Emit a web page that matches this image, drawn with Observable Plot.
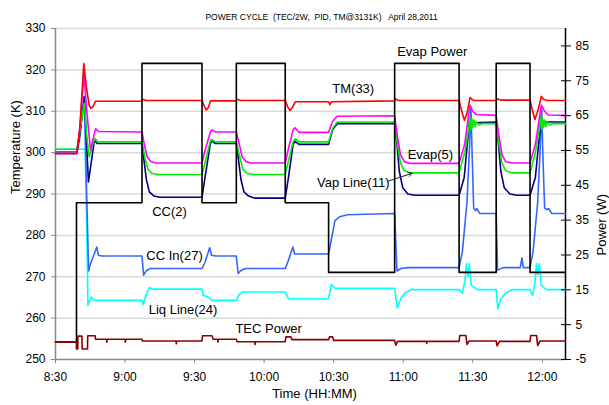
<!DOCTYPE html>
<html>
<head>
<meta charset="utf-8">
<script src="https://cdn.jsdelivr.net/npm/d3@7"></script>
<script src="https://cdn.jsdelivr.net/npm/@observablehq/plot@0.6"></script>
<style>
  html, body { margin: 0; padding: 0; background: #fff; }
  #chart { position: relative; width: 609px; height: 405px; }
  svg { font-family: "Liberation Sans", Arial, sans-serif; }
</style>
</head>
<body>
<div id="chart"></div>
<script>
// ---------- DATA (minutes after 8:30, value) ----------
const chartTitle = "POWER CYCLE  (TEC/2W,  PID, TM@3131K)   April 28,2011";
const xTickLabels = ["8:30", "9:00", "9:30", "10:00", "10:30", "11:00", "11:30", "12:00"];
const tempTicks = [250, 260, 270, 280, 290, 300, 310, 320, 330];
const powerTicks = [-5, 5, 15, 25, 35, 45, 55, 65, 75, 85];

// TM(33) [K]
const tm33 = [[0,299.8],[9.2,299.8],[10.5,306],[12.2,321.5],[13.3,316],[14.5,311.5],[15.3,310.7],[16.3,311.2],[17.2,312.4],
  [37.3,312.4],[37.6,312.9],[39,312.6],[63.2,312.6],[64.2,311.2],[65.1,310.3],[66,311],[66.8,312.5],
  [78,312.5],[78.3,312.9],[80,312.6],[99.1,312.6],[100.2,311],[101.2,310.2],[102.3,311],[103.5,312.3],
  [117.8,312.3],[118.3,311.6],[119,312.3],[146.3,312.5],[146.6,313],[148,312.6],
  [174.1,312.6],[175,310.5],[176.4,307.8],[177.5,309.5],[178.8,313.3],[179.8,312.8],[181,312.6],
  [190.1,312.6],[190.4,313],[192,312.7],[204.7,312.7],[205.6,310.5],[206.8,308],[208,310],[209.6,313.6],[210.5,312.9],[212,312.6],[220,312.6]];

// Evap(5) [K]
const evap5 = [[0,299.8],[9.2,299.8],[10.5,306],[12.3,319],[13.5,310],[15.1,300.6],[16.3,303.5],[17.3,305.8],[18.5,305.1],
  [37.3,305],[38.3,302],[39.5,299],[41,297.9],[43,297.5],[63.2,297.5],[64.5,300.5],[66.8,305],[67.5,305.5],[69,305],
  [78,305],[79.3,302],[80.5,299],[82,297.9],[84,297.5],[99.1,297.5],[100.5,301],[102.5,305.5],[103.3,306],[105,304.9],
  [117.8,304.9],[119.5,307.5],[121.5,308.8],[146.3,308.9],[147.5,304],[148.8,299.5],[150.5,297.8],[153,297.4],
  [174.1,297.4],[176.5,302],[178.8,311.5],[180,310],[181.5,309.2],[190.1,309],[191.3,304],[192.6,299.5],[194.2,297.8],[197,297.5],
  [204.7,297.5],[207,302],[209.6,311.5],[211,310],[212.5,309.1],[220,309]];

// Vap Line(11) [K]
const vapLine11 = [[0,300.8],[9.2,300.8],[10.5,305],[12.4,312],[13.5,304],[14.5,299],[15.8,301.5],[17,303.4],[18.3,302.6],
  [37.3,302.6],[38.5,299],[39.8,296],[41.5,295],[44,294.7],[63.2,294.7],[64.5,297.5],[66.8,302.8],[67.3,303.2],[69,302.6],
  [78,302.6],[79.5,299],[80.8,296],[82.5,295],[85,294.7],[99.1,294.7],[100.5,298],[102.5,302.6],[103.3,303.3],[105,302.6],
  [117.8,302.6],[119.5,305.8],[121.5,307.4],[146.3,307.4],[147.5,302],[148.8,297.5],[150.5,295.6],[153,295.1],
  [174.1,295.1],[176.5,300],[178.3,306],[178.8,308.6],[179.2,305.6],[179.6,308.2],[180,306],[180.5,307.9],[181,306.3],[181.6,307.5],[182.5,306.7],[184,307],
  [190.1,307],[191.3,302],[192.6,297.5],[194.2,295.6],[197,295.1],[204.7,295.1],[207,300],[208.8,306],[209.3,308.6],[209.7,305.6],[210.1,308.2],[210.5,306],[211,307.9],[211.5,306.3],[212.2,307.5],[213,306.7],[214.5,307],[220,307]];

// CC(2) [K]
const cc2 = [[0,299.8],[9.2,299.8],[10.5,304],[12.4,313.5],[13.2,305],[14.2,292.9],[15,296],[16.8,303],[18,302.2],
  [37.3,302.2],[38.2,298],[39.2,293.5],[40.5,290.5],[42.5,289.5],[45,289.2],[63.2,289.2],[64.5,294],[66.8,302.2],[67.5,302.8],[69,302.2],
  [78,302.2],[79,298],[80,293.5],[81.3,290.5],[83.3,289.5],[86,289],[99.1,289],[100.5,294],[102.5,302],[103.3,302.7],[105,302],
  [117.8,302],[119.5,305.5],[121.5,307],[146.3,307],[147.3,302],[148.3,295.5],[149.8,291.5],[152,290],[155,289.7],
  [174.1,289.7],[176.3,294],[178.6,307.8],[180,307.2],[190.1,307.4],[191.1,302],[192.1,295.5],[193.6,291.5],[196,290],[199,289.7],
  [204.7,289.7],[207,294],[209.4,307.8],[211,307.4],[220,307.4]];

// CC In(27) [K]
const ccIn27 = [[0,300.2],[9.2,300.2],[10.5,305],[12.4,313.5],[13.2,295],[13.9,280],[14.3,271.4],[15,273],[16.5,275.2],[17.8,277.2],[18.5,275.2],[20,275],
  [37.3,275],[38,270.4],[39.2,271.5],[41,272],[63.2,272],[64.5,273.5],[66.5,277],[67.3,275.2],[69,275],
  [78,275],[78.8,270.8],[80,271.5],[82,272],[99.1,272],[100.5,274],[102.4,277.2],[103.2,275.5],[105,275.5],
  [117.8,275.5],[119,279],[120.5,283.5],[122.5,284.5],[126,285],[146.3,285.3],[147.3,271.4],[149,272],[152,272.2],
  [174.1,272.2],[175.5,276],[177.5,288],[178.5,300],[179.2,311],[179.7,300],[180.4,286.5],[181.2,286],[181.7,286.5],[183,285.3],
  [190.1,285.3],[190.7,271.6],[193,272.2],[200.5,272.2],[201.2,274.6],[201.8,272.2],[204.7,272.2],
  [206,276],[208,288],[209,300],[209.7,311],[210.2,300],[211,286.6],[212,286.2],[212.7,286.5],[214,285.3],[220,285.3]];

// Liq Line(24) [K]
const liqLine24 = [[0,300.8],[12.8,300.8],[13.4,285],[14,263.1],[15,264.5],[15.5,265.1],[16.5,264.3],
  [37.3,264.3],[37.8,263.3],[39,265.5],[40.5,267.4],[42,267],[63.2,267],[63.8,265.5],[66,265.1],[67.5,264.3],
  [78,264.3],[79,265.5],[80.5,266.3],[82,266.3],[99.1,266.3],[100.5,264.7],[102,264.7],
  [117.8,264.7],[119,268.2],[120.5,267.2],[146.3,267.2],[147.5,262.5],[149,264.8],[151,266.2],[153.5,266.9],
  [174.1,266.9],[175.5,266],[176.6,269],[177.3,273.2],[178,270],[178.5,273.2],[179.3,268],[180.5,267.5],[182,266.9],
  [190.1,266.9],[190.8,262.3],[192,264.5],[194,266],[197,266.9],[204.7,266.9],
  [205.8,265.5],[206.8,268.5],[207.5,273.2],[208.1,270.5],[208.7,273.2],[209.5,268],[210.8,267.3],[212,266.9],[220,266.9]];

// TEC Power [W]
const tecPower = [[0,0],[9.0,0],[9.05,-2],[9.6,-2],[9.65,1.7],[11.4,1.7],[11.5,-2],[13.8,-2],[13.9,1.8],[17.1,1.8],[17.3,0.8],
  [22,0.8],[22.1,0],[22.3,0.8],[30,0.8],[30.1,0],[30.3,0.8],[37.3,0.8],[37.5,0.3],[52,0.3],[52.1,-0.5],[52.3,0.3],
  [63.2,0.3],[63.4,1.8],[67.5,1.8],[68,0.8],[70,0.8],[70.1,0],[70.3,0.8],[78,0.8],[78.3,0.1],[86,0.1],[86.1,-0.7],[86.3,0.1],
  [99.1,0.1],[99.4,1.5],[101.5,1.5],[102,0.7],[117.8,0.7],[118.2,1.5],[119.5,1.5],[120,0.5],[146.3,0.5],[146.8,-0.9],[147.6,0.2],
  [160,0.2],[160.1,-0.4],[160.3,0.2],[174.1,0.2],[174.4,1.9],[177,1.9],[177.5,-0.7],[178.3,0.3],
  [190.1,0.3],[190.5,-1.1],[191.5,0.2],[204.7,0.2],[205,1.9],[207.5,1.9],[208,-1],[209,0.3],[220,0.3]];

// Evap Power [W]
const evapPower = [[0,0],[9.05,0],[9.05,40],[37.3,40],[37.3,80],[63.2,80],[63.2,40],[78,40],[78,80],[99.1,80],[99.1,40],
  [117.8,40],[117.8,20],[146.3,20],[146.3,80],[174.1,80],[174.1,20],[190.1,20],[190.1,80],[204.7,80],[204.7,20],[220,20]];

// Annotations: label, minutes after 8:30, temperature-axis position
const annotLabels = ["Evap Power", "TM(33)", "Evap(5)", "Vap Line(11)", "CC(2)", "CC In(27)", "Liq Line(24)", "TEC Power"];
const annotTimes  = [147.4, 119.4, 151.9, 112.8, 41.7, 39.2, 40.2, 77.6];
const annotTemps  = [324.3, 315.3, 299.5, 292.7, 285.7, 275.0, 261.9, 257.5];
const arrowFrom = [143.5, 293.1];
const arrowTo = [153.8, 295.0];

// ---------- helpers ----------
const base = new Date(2011, 3, 28, 8, 30);
const toDate = m => new Date(base.getTime() + m * 60000);
const parseHM = s => { const [h, m] = s.split(":").map(Number); return new Date(2011, 3, 28, h, m); };
const P2T = p => 250 + (p + 5) * 80 / 95;          // right (power) axis -> left (temperature) axis
const T2P = t => Math.round((t - 250) * 95 / 80 - 5);

const asRows = (arr, conv = v => v) => arr.map(([m, v]) => ({x: toDate(m), y: conv(v)}));

const series = [
  {data: asRows(liqLine24), color: "#00ffff"},
  {data: asRows(ccIn27), color: "#3366ff"},
  {data: asRows(cc2), color: "#000080"},
  {data: asRows(vapLine11), color: "#00ee00"},
  {data: asRows(evap5), color: "#ff00ff"},
  {data: asRows(tm33), color: "#ff0000"},
  {data: asRows(evapPower, P2T), color: "#000000"},
  {data: asRows(tecPower, P2T), color: "#8b0000"}
];

const annots = annotLabels.map((t, i) => ({text: t, x: toDate(annotTimes[i]), y: annotTemps[i]}));
const xTicks = xTickLabels.map(parseHM);
const xLabelOf = new Map(xTicks.map((d, i) => [+d, xTickLabels[i]]));

const chart = Plot.plot({
  width: 609,
  height: 405,
  marginTop: 28,
  marginBottom: 46,
  marginLeft: 55,
  marginRight: 44,
  style: {fontFamily: "Liberation Sans, Arial, sans-serif", background: "#fff"},
  x: {type: "time", domain: [toDate(0), toDate(220)]},
  y: {domain: [250, 330]},
  marks: [
    Plot.ruleY(tempTicks.slice(1), {stroke: "#d9d9d9", strokeWidth: 1.5}),
    Plot.ruleY([250], {stroke: "#888", strokeWidth: 1.5}),
    Plot.ruleX([toDate(0)], {stroke: "#888", strokeWidth: 1.5}),
    Plot.ruleX([toDate(220)], {stroke: "#000", strokeWidth: 1.5}),
    ...series.map(s => Plot.line(s.data, {x: "x", y: "y", stroke: s.color, strokeWidth: 1.6})),
    Plot.text(annots, {x: "x", y: "y", text: "text", textAnchor: "start", fontSize: 13, fill: "#000"}),
    Plot.arrow([{x1: toDate(arrowFrom[0]), y1: arrowFrom[1], x2: toDate(arrowTo[0]), y2: arrowTo[1]}],
      {x1: "x1", y1: "y1", x2: "x2", y2: "y2", stroke: "#222", strokeWidth: 1, headLength: 6}),
    // left axis
    Plot.axisY(tempTicks, {anchor: "left", tickSize: 4, tickPadding: 6, fontSize: 12, label: null, stroke: "#888", fill: "#000"}),
    // right axis (power): cross ticks, then labels
    Plot.axisY(powerTicks.map(P2T), {anchor: "right", tickSize: 10, dx: -5, stroke: "#000", label: null, tickFormat: () => ""}),
    Plot.axisY(powerTicks.map(P2T), {anchor: "right", tickSize: 0, tickPadding: 10, fontSize: 12, label: null, tickFormat: T2P}),
    // bottom axis
    Plot.axisX(xTicks, {anchor: "bottom", tickSize: 4, tickPadding: 9, fontSize: 12, label: null, stroke: "#888", tickFormat: d => xLabelOf.get(+d)}),
    // titles
    Plot.text([chartTitle], {frameAnchor: "top", dy: -15, dx: 11, fontSize: 8.5, fill: "#000"}),
    Plot.text(["Temperature (K)"], {frameAnchor: "left", dx: -40, rotate: -90, fontSize: 13, fill: "#000"}),
    Plot.text(["Power (W)"], {frameAnchor: "right", dx: 36, rotate: -90, fontSize: 13, fill: "#000"}),
    Plot.text(["Time (HH:MM)"], {frameAnchor: "bottom", dy: 38, dx: 4, fontSize: 13, fill: "#000"})
  ]
});
document.getElementById("chart").appendChild(chart);
</script>
</body>
</html>
